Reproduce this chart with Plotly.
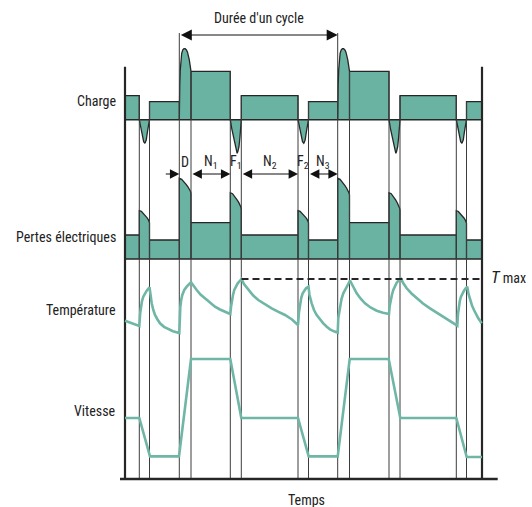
import plotly.graph_objects as go

# ---------------- data ----------------
# phase timeline, arbitrary time units
phase_names = ["N2", "F2", "N3", "D", "N1", "F1", "N2", "F2", "N3", "D", "N1", "F1", "N2", "F2", "N3"]
phase_bounds = [0, 14.3, 24.5, 54.3, 66, 105.3, 116.3, 173, 183.5, 212.7, 224.5, 264, 275, 331.3, 341.5, 357]

# Charge (relative units, 0 = zero load)
charge_levels = {"N1": 48.4, "N2": 24.0, "N3": 18.0}
charge_D_u = [0, 0.04, 0.085, 0.145, 0.205, 0.3, 0.4, 0.5, 0.61, 0.7, 0.77, 0.85, 0.915, 0.965, 1]
charge_D_v = [18, 35, 50, 60, 66.4, 69.8, 71, 71, 69.8, 67.5, 64.5, 60, 55, 51, 48.4]
charge_F1_u = [0, 0.127, 0.273, 0.427, 0.518, 0.62, 0.68, 0.79, 0.88, 0.945, 1]
charge_F1_v = [0, -8.6, -17, -22, -28.6, -33.6, -32, -27, -17, -7, 0]
charge_F2_u = [0, 0.1, 0.27, 0.43, 0.55, 0.68, 0.8, 0.94, 1]
charge_F2_v = [0, -5.3, -15.3, -22, -23.6, -20.3, -12, -3.6, 0]

# Pertes électriques (relative units)
pertes_levels = {"N1": 36.3, "N2": 24.0, "N3": 19.0}
pertes_peak_start = [48.3, 80.7, 66.3, 48.3, 80.7, 66.3, 48.3]
pertes_peak_end = [36.3, 65.7, 50.0, 36.3, 64.0, 49.0, 35.7]
pertes_shape_u = [0, 0.2, 0.4, 0.6, 0.75, 0.88, 0.96, 1]
pertes_shape_g = [0, 0.06, 0.22, 0.42, 0.58, 0.74, 0.88, 1]

# Température (relative units)
temp_t = [0, 7, 14.3,
          15.2, 16, 17, 18.3, 20, 21.7, 24.5,
          25.5, 26.7, 28.3, 30, 32.5, 35, 39, 43.3, 48, 54.3,
          54.8, 55.3, 56.2, 57.3, 59.3, 61.7, 66,
          68.5, 71.7, 75.5, 80, 85, 90, 95, 100, 105.3,
          106, 106.7, 108, 109.3, 111, 112.7, 114.7, 116.5,
          119, 123.3, 128, 133.3, 140, 146.7, 153, 160, 167, 173,
          174, 175, 176.3, 177.7, 179.3, 181, 183.5,
          184.5, 186.7, 189, 191.7, 195, 198.3, 201.5, 205, 209, 212.7,
          213.3, 215, 216.5, 218.3, 220.5, 222.7, 225,
          228, 231.7, 235.5, 240, 245.5, 251.7, 258, 264,
          264.7, 265.7, 267, 268.3, 270, 271.7, 273.7, 275.7,
          278.5, 281.7, 286.5, 291.7, 298, 305, 311.5, 318.3, 325, 332.3,
          333, 333.7, 334.8, 336, 337.5, 339, 340.7, 342.3,
          343.5, 345, 347, 349, 351, 353.3, 356.7]
temp_v = [19.3, 16.5, 14,
          27, 33.3, 39, 43.3, 47, 49.3, 52.7,
          44, 36.7, 30, 25, 20.5, 16.7, 13.2, 10.7, 8.8, 7,
          22, 33, 40, 45, 50, 53.3, 57.7,
          54, 50, 45.5, 41.7, 37.2, 33.3, 30.5, 28.3, 26,
          33, 38.3, 45, 50, 53.7, 56.7, 59, 61,
          56, 50, 44.7, 40, 35.5, 31.7, 28.3, 25, 20.5, 15,
          28, 36.7, 42.5, 46.7, 49.5, 51.7, 53.3,
          45, 36.7, 30, 25, 20.2, 16.7, 13.5, 10.7, 8.7, 7.3,
          22, 33.3, 41, 46.7, 51.5, 55, 59.5,
          53, 46.7, 41.5, 36.7, 32.5, 29.3, 27.2, 26,
          34, 40, 45.5, 50, 54, 57.3, 59.7, 61.5,
          56.5, 51.7, 46.5, 41.7, 36.5, 31.7, 27.5, 23.3, 19, 14.3,
          26, 33.3, 39, 43.3, 46.7, 49.3, 51.7, 53.3,
          46, 40, 34.5, 30, 25.5, 21.7, 16.7]
tmax_value = 61
tmax_t = [116.5, 355]

# Vitesse (relative units)
vit_t = [0, 14.3, 25, 54, 66, 105.3, 116.3, 173, 183.7, 212.7, 224.7, 263.7, 275.3, 331.3, 341.7, 357]
vit_v = [61, 61, 22.6, 22.6, 120, 120, 61, 61, 22.6, 22.6, 120, 120, 61, 61, 22, 22]

row_labels = ["Charge", "Pertes électriques", "Température", "Vitesse"]

# ---------------- layout constants ----------------
CHARGE_BASE = 359.3
PERTES_BASE = 220.0
TEMP_BASE = 139.0
VIT_BASE = 0.0
TEAL = "#6ab3a3"
TEAL_LINE = "#6fb6a6"
INK = "#262626"
GUIDE = "#3c3c3c"
FONT = "Liberation Sans Narrow, Roboto Condensed, Arial Narrow, Liberation Sans, sans-serif"
T_END = phase_bounds[-1]
CYCLE_V = 84.7
CYCLE_TOP = 86.7
AXIS_TOP = 53.0
TIME_AXIS = [-5, 372.7]


def build_charge():
    xs, ys = [0], [0]
    for i, name in enumerate(phase_names):
        t0, t1 = phase_bounds[i], phase_bounds[i + 1]
        if name in charge_levels:
            L = charge_levels[name]
            xs += [t0, t0, t1, t1]
            ys += [0, L, L, 0]
        else:
            u = {"D": charge_D_u, "F1": charge_F1_u, "F2": charge_F2_u}[name]
            v = {"D": charge_D_v, "F1": charge_F1_v, "F2": charge_F2_v}[name]
            xs += [t0] + [t0 + (t1 - t0) * k for k in u] + [t1]
            ys += [0] + list(v) + [0]
    xs.append(T_END)
    ys.append(0)
    return xs, [CHARGE_BASE + y for y in ys]


def build_pertes():
    xs, ys = [0], [0]
    k = 0
    for i, name in enumerate(phase_names):
        t0, t1 = phase_bounds[i], phase_bounds[i + 1]
        if name in pertes_levels:
            L = pertes_levels[name]
            xs += [t0, t0, t1, t1]
            ys += [0, L, L, 0]
        else:
            a, b = pertes_peak_start[k], pertes_peak_end[k]
            k += 1
            xs += [t0] + [t0 + (t1 - t0) * u for u in pertes_shape_u] + [t1]
            ys += [0] + [a - (a - b) * g for g in pertes_shape_g] + [0]
    xs.append(T_END)
    ys.append(0)
    return xs, [PERTES_BASE + y for y in ys]


fig = go.Figure()

cx, cy = build_charge()
fig.add_trace(go.Scatter(x=cx, y=cy, mode="lines", fill="toself", fillcolor=TEAL,
                         line=dict(color=INK, width=1.3), hoverinfo="skip"))
px_, py_ = build_pertes()
fig.add_trace(go.Scatter(x=px_, y=py_, mode="lines", fill="toself", fillcolor=TEAL,
                         line=dict(color=INK, width=1.3), hoverinfo="skip"))

# baselines of the two filled rows
fig.add_trace(go.Scatter(x=[0, T_END, None, 0, T_END], y=[CHARGE_BASE, CHARGE_BASE, None, PERTES_BASE, PERTES_BASE],
                         mode="lines", line=dict(color=INK, width=1.6), hoverinfo="skip"))

# guide lines at phase changes
gx, gy = [], []
for i in range(1, len(phase_bounds) - 1):
    left, right = phase_names[i - 1], phase_names[i]
    if left == "N3" and right == "D":
        top = CYCLE_TOP
    else:
        top = max([charge_levels.get(left, 0), charge_levels.get(right, 0),
                   charge_levels["N1"] if left == "D" else 0])
    gx += [phase_bounds[i], phase_bounds[i], None]
    gy += [VIT_BASE, CHARGE_BASE + top, None]
fig.add_trace(go.Scatter(x=gx, y=gy, mode="lines", line=dict(color=GUIDE, width=1), hoverinfo="skip"))

# frame verticals and time axis
fig.add_trace(go.Scatter(x=[0, 0, None, T_END, T_END],
                         y=[VIT_BASE, CHARGE_BASE + AXIS_TOP, None, VIT_BASE, CHARGE_BASE + AXIS_TOP],
                         mode="lines", line=dict(color=INK, width=2.2), hoverinfo="skip"))
fig.add_trace(go.Scatter(x=TIME_AXIS, y=[VIT_BASE, VIT_BASE], mode="lines",
                         line=dict(color=INK, width=2.4), hoverinfo="skip"))

# temperature
fig.add_trace(go.Scatter(x=temp_t, y=[TEMP_BASE + v for v in temp_v], mode="lines",
                         line=dict(color=TEAL_LINE, width=2.6), hoverinfo="skip"))
fig.add_trace(go.Scatter(x=tmax_t, y=[TEMP_BASE + tmax_value] * 2, mode="lines",
                         line=dict(color=INK, width=2, dash="7px,4px"), hoverinfo="skip"))

# vitesse
fig.add_trace(go.Scatter(x=vit_t, y=[VIT_BASE + v for v in vit_v], mode="lines",
                         line=dict(color=TEAL_LINE, width=2.6), hoverinfo="skip"))

ann = []
label_y = [CHARGE_BASE + 19, PERTES_BASE + 22.3, TEMP_BASE + 30, VIT_BASE + 67.6]
for lab, yy in zip(row_labels, label_y):
    ann.append(dict(x=-6.7, y=yy, text=lab, showarrow=False, xanchor="right", yanchor="middle",
                    font=dict(family=FONT, size=14, color="#222")))

# cycle duration
c0, c1 = phase_bounds[3], phase_bounds[9]
ann.append(dict(x=c1, y=CHARGE_BASE + CYCLE_V, ax=c0, ay=CHARGE_BASE + CYCLE_V, axref="x", ayref="y",
                xref="x", yref="y", text="", showarrow=True, arrowhead=2, arrowside="end+start",
                arrowsize=2.0, arrowwidth=1.1, arrowcolor="#111"))
ann.append(dict(x=(c0 + c1) / 2, y=CHARGE_BASE + 101.7, text="Durée d'un cycle", showarrow=False,
                font=dict(family=FONT, size=14, color="#222")))

# phase arrows
ARROW_Y = PERTES_BASE + 85
ann.append(dict(x=phase_bounds[3], y=ARROW_Y, ax=phase_bounds[3] - 15, ay=ARROW_Y, axref="x", ayref="y",
                text="", showarrow=True, arrowhead=2, arrowsize=1.7, arrowwidth=1.1, arrowcolor="#111"))
for a, b in [(4, 5), (6, 7), (8, 9)]:
    ann.append(dict(x=phase_bounds[b], y=ARROW_Y, ax=phase_bounds[a], ay=ARROW_Y, axref="x", ayref="y",
                    text="", showarrow=True, arrowhead=2, arrowside="end+start", arrowsize=1.7,
                    arrowwidth=1.1, arrowcolor="#111"))
phase_labels = ["D", "N<sub>1</sub>", "F<sub>1</sub>", "N<sub>2</sub>", "F<sub>2</sub>", "N<sub>3</sub>"]
for j, lab in enumerate(phase_labels):
    t0, t1 = phase_bounds[3 + j], phase_bounds[4 + j]
    ann.append(dict(x=(t0 + t1) / 2, y=PERTES_BASE + 97.3, text=lab, showarrow=False,
                    font=dict(family=FONT, size=14, color="#222")))

ann.append(dict(x=364, y=TEMP_BASE + 63, text="<i><span style='font-size:17px'>T</span></i> max",
                showarrow=False, xanchor="left", font=dict(family=FONT, size=14, color="#222")))
ann.append(dict(x=181.7, y=-21, text="Temps", showarrow=False,
                font=dict(family=FONT, size=14, color="#222")))

fig.update_layout(
    width=532, height=507,
    margin=dict(l=0, r=0, t=0, b=0, pad=0),
    paper_bgcolor="white", plot_bgcolor="white",
    showlegend=False,
    annotations=ann,
    xaxis=dict(range=[-125, 407], visible=False, fixedrange=True),
    yaxis=dict(range=[-28, 479], visible=False, fixedrange=True),
)

fig.write_html("out.html", config={"displayModeBar": False},
               post_script="document.body.style.margin='0px';")
